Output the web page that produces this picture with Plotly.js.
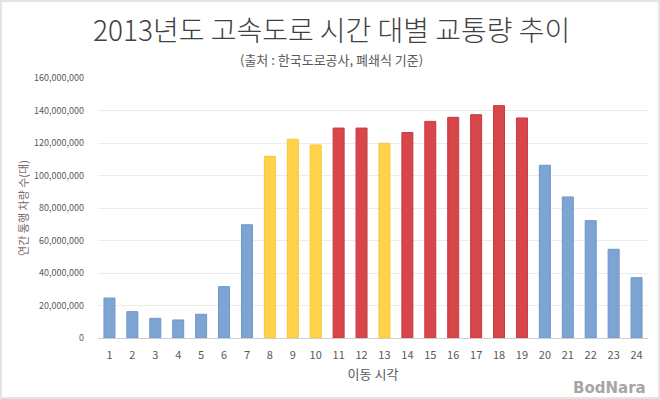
<!DOCTYPE html>
<html>
<head>
<meta charset="utf-8">
<script src="https://cdn.plot.ly/plotly-3.0.1.min.js"></script>
<style>
html,body{margin:0;padding:0;background:#fff;}
#chart{width:656px;height:395px;border:2px solid #e4e4e4;}
</style>
</head>
<body>
<div id="chart"></div>
<script>
const hours = ['1','2','3','4','5','6','7','8','9','10','11','12','13','14','15','16','17','18','19','20','21','22','23','24'];
const traffic = [24600000,16200000,12100000,11100000,14600000,31600000,69700000,111800000,122300000,118800000,129200000,129200000,119800000,126400000,133300000,135800000,137400000,143000000,135400000,106300000,86800000,72200000,54600000,37100000];
const levels = ['low','low','low','low','low','low','low','mid','mid','mid','high','high','mid','high','high','high','high','high','high','low','low','low','low','low'];
const yTicks = [0,20000000,40000000,60000000,80000000,100000000,120000000,140000000,160000000];
const yTickText = ['0','20,000,000','40,000,000','60,000,000','80,000,000','100,000,000','120,000,000','140,000,000','160,000,000'];

const fill = {low:'#7DA4D3', mid:'#FFD24A', high:'#D6464A'};
const edge = {low:'#6E97C9', mid:'#F7C833', high:'#C93A3E'};

const trace = {
  type:'bar',
  x: hours,
  y: traffic,
  marker:{color: levels.map(l=>fill[l]), line:{color: levels.map(l=>edge[l]), width:1}},
  hoverinfo:'x+y'
};

const layout = {
  width:656, height:395,
  margin:{l:96, r:10, t:76, b:59},
  paper_bgcolor:'#fff', plot_bgcolor:'#fff',
  bargap:0.52,
  showlegend:false,
  font:{family:'"Noto Sans CJK KR", "Noto Sans", sans-serif', color:'#595959'},
  xaxis:{
    type:'category',
    tickfont:{size:11, color:'#595959'},
    showline:true, linecolor:'#d0d0d0', linewidth:1,
    ticks:'', showgrid:false,
    ticklabelstandoff:7,
    title:{text:'이동 시각', font:{size:13, color:'#595959'}, standoff:8}
  },
  yaxis:{
    range:[0,160000000],
    tickvals:yTicks, ticktext:yTickText,
    tickfont:{size:9, color:'#595959'},
    gridcolor:'#ececec', gridwidth:1,
    zeroline:false, showline:false, ticks:'',
    ticklabelstandoff:13,
    title:{text:'연간 통행 차량 수(대)', font:{size:11, color:'#7a6868'}, standoff:3}
  },
  annotations:[
    {text:'2013년도 고속도로 시간 대별 교통량 추이', xref:'paper', yref:'paper', x:0.425, y:1, yshift:49, xanchor:'center', yanchor:'middle', showarrow:false,
     font:{size:28, color:'#404040', weight:300, family:'"Noto Sans CJK KR", sans-serif'}},
    {text:'(출처 : 한국도로공사, 폐쇄식 기준)', xref:'paper', yref:'paper', x:0.425, y:1, yshift:19, xanchor:'center', yanchor:'middle', showarrow:false,
     font:{size:13, color:'#595959', family:'"Noto Sans CJK KR", sans-serif'}},
    {text:'<b>BodNara</b>', xref:'paper', yref:'paper', x:1.0, y:0, yshift:-50, xanchor:'right', yanchor:'middle', showarrow:false,
     font:{size:15, color:'#a6a6a6', family:'"DejaVu Sans", sans-serif'}}
  ]
};

Plotly.newPlot('chart',[trace],layout,{displayModeBar:false, staticPlot:true});
</script>
</body>
</html>
